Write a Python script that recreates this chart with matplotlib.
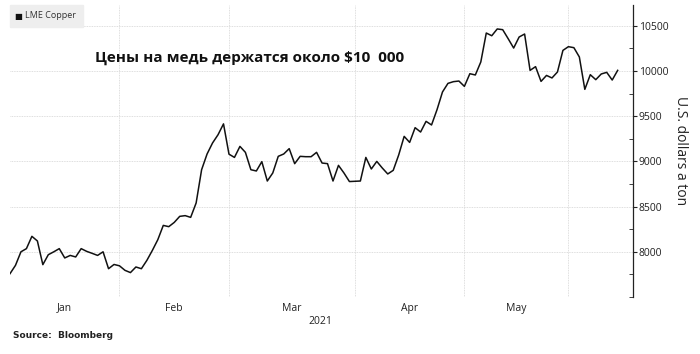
import numpy as np
import matplotlib.pyplot as plt
from matplotlib.ticker import FixedLocator, MultipleLocator
from matplotlib.patches import Rectangle

# LME copper, daily close (trading days, Jan - early Jun 2021), USD per ton
copper = [
    7758, 7850, 8000, 8035, 8171, 8120, 7858, 7968, 8000, 8035,
    7932, 7960, 7943, 8035, 8005, 7983, 7960, 8000, 7813, 7860,
    7845, 7795, 7770, 7832, 7813, 7905, 8015, 8134, 8292, 8278,
    8325, 8392, 8400, 8381, 8540, 8908, 9082, 9204, 9295, 9415,
    9080, 9044, 9166, 9100, 8908, 8894, 8997, 8783, 8872, 9056,
    9082, 9141, 8975, 9056, 9052, 9052, 9100, 8982, 8975, 8783,
    8956, 8872, 8777, 8780, 8783, 9044, 8916, 9000, 8927, 8861,
    8901, 9071, 9277, 9210, 9373, 9325, 9443, 9403, 9572, 9768,
    9863, 9882, 9889, 9830, 9970, 9956, 10100, 10420, 10390, 10465,
    10457, 10357, 10254, 10376, 10409, 10007, 10048, 9885, 9951, 9923,
    9989, 10228, 10269, 10258, 10155, 9797, 9959, 9904, 9967, 9985,
    9900, 10007,
]

# index of the first trading day of Feb, Mar, Apr, May, Jun
month_starts = [20, 40, 63, 83, 102]
month_labels = ["Jan", "Feb", "Mar", "Apr", "May"]
year_label = "2021"
y_ticks = [8000, 8500, 9000, 9500, 10000, 10500]

title = "Цены на медь держатся около $10  000"
legend_label = "LME Copper"
ylabel = "U.S. dollars a ton"
source = "Source:  Bloomberg"

plt.rcParams['font.family'] = ['Open Sans', 'DejaVu Sans']

fig = plt.figure(figsize=(7, 3.54), dpi=100)
ax = fig.add_axes([10 / 700, 1 - 297 / 354, 623 / 700, 292 / 354])

x = np.arange(len(copper))
ax.plot(x, copper, color="#111111", lw=1.1)

ax.set_xlim(0, 113.8)
ax.set_ylim(7500, 10730)

# month grid lines at boundaries, labels centred in each month
bounds = [0] + month_starts
mids = [(a + b) / 2 for a, b in zip(bounds[:-1], bounds[1:])]
ax.xaxis.set_major_locator(FixedLocator(month_starts))
ax.xaxis.set_minor_locator(FixedLocator(mids))
ax.set_xticklabels([], minor=False)
ax.set_xticklabels(month_labels, minor=True)
ax.tick_params(axis="x", which="both", length=0, labelsize=7.5,
               colors="#222222", pad=4)

ax.yaxis.tick_right()
ax.yaxis.set_label_position("right")
ax.yaxis.set_major_locator(FixedLocator(y_ticks))
ax.yaxis.set_minor_locator(MultipleLocator(250))
ax.tick_params(axis="y", which="major", direction="out", length=3,
               labelsize=7.5, colors="#222222", pad=1)
ax.tick_params(axis="y", which="minor", direction="in", length=3,
               color="#222222")
ax.set_ylabel(ylabel, rotation=-90, labelpad=14, fontsize=10,
              color="#222222")

ax.grid(True, which="major", color="#d4d4d4", lw=0.6, ls=(0, (1, 1)))
for side in ["left", "top", "bottom"]:
    ax.spines[side].set_visible(False)
ax.spines["right"].set_color("#222222")
ax.spines["right"].set_linewidth(0.9)

fig.text(320 / 700, 1 - 321 / 354, year_label, ha="center", va="center",
         fontsize=7.5, color="#222222")

# legend chip
fig.patches.append(Rectangle((10 / 700, 1 - 27 / 354), 73 / 700, 22 / 354,
                             transform=fig.transFigure, color="#eeeeee",
                             zorder=0))
fig.text(14.5 / 700, 1 - 16 / 354, "■", fontsize=6, va="center",
         family="DejaVu Sans", color="#111111")
fig.text(25 / 700, 1 - 16 / 354, legend_label, fontsize=6.5, va="center",
         color="#333333")

fig.text(249.5 / 700, 1 - 58 / 354, title, ha="center", va="center",
         fontsize=11, fontweight="bold", color="#111111")

fig.text(12.7 / 700, 1 - 336 / 354, source, ha="left", va="center",
         fontsize=6.5, fontweight="bold", family="DejaVu Sans",
         color="#222222")

fig.savefig("out.png", dpi=100)
